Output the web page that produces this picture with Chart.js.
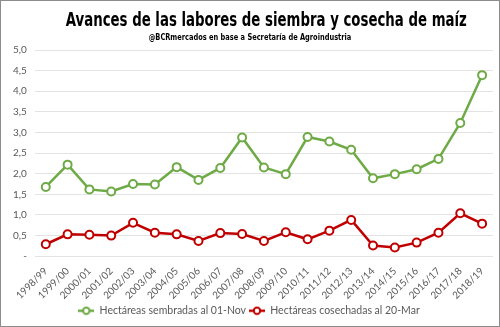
<!DOCTYPE html>
<html>
<head>
<meta charset="utf-8">
<script src="https://cdn.jsdelivr.net/npm/chart.js@4"></script>
<style>
  html, body { margin: 0; padding: 0; background: #fff; }
  #marco { width: 500px; height: 327px; box-sizing: border-box; border: 1px solid #8c8c8c; position: relative; overflow: hidden; }
  #marco canvas { position: absolute; left: 0; top: 0; }
  .encabezado { position: absolute; left: 0; width: 498px; text-align: center; color: #000; font-weight: bold;
    font-family: 'DejaVu Sans Condensed', 'Liberation Sans Narrow', sans-serif; white-space: nowrap; }
  #titulo { top: 6px; font-size: 20px; line-height: 24px; transform: scaleX(0.74); }
  #subtitulo { top: 30px; font-size: 9px; line-height: 12px; transform: scaleX(0.82); }
</style>
</head>
<body>
<div id="marco">
  <canvas id="graficoMaiz"></canvas>
  <div id="titulo" class="encabezado">Avances de las labores de siembra y cosecha de maíz</div>
  <div id="subtitulo" class="encabezado">@BCRmercados en base a Secretaría de Agroindustria</div>
</div>
<script>
// Campañas y hectáreas (millones)
const campanias = ['1998/99', '1999/00', '2000/01', '2001/02', '2002/03', '2003/04', '2004/05', '2005/06', '2006/07', '2007/08',
  '2008/09', '2009/10', '2010/11', '2011/12', '2012/13', '2013/14', '2014/15', '2015/16', '2016/17', '2017/18', '2018/19'];
const sembradas = [1.68, 2.22, 1.62, 1.57, 1.75, 1.74, 2.16, 1.85, 2.14, 2.88,
  2.15, 1.99, 2.89, 2.78, 2.58, 1.89, 1.99, 2.11, 2.36, 3.23, 4.39];
const cosechadas = [0.29, 0.53, 0.52, 0.50, 0.81, 0.57, 0.53, 0.37, 0.56, 0.54,
  0.37, 0.58, 0.41, 0.62, 0.88, 0.26, 0.21, 0.33, 0.57, 1.04, 0.79];

const VERDE = '#6eaa45';
const ROJO = '#c00000';

// icono de leyenda: línea con círculo al centro
function iconoLeyenda(color) {
  const c = document.createElement('canvas');
  c.width = 16; c.height = 10;
  const g = c.getContext('2d');
  g.strokeStyle = color;
  g.lineWidth = 2.5;
  g.beginPath(); g.moveTo(0, 5); g.lineTo(16, 5); g.stroke();
  g.fillStyle = '#fff';
  g.lineWidth = 2;
  g.beginPath(); g.arc(8, 5, 3.2, 0, Math.PI * 2); g.fill(); g.stroke();
  return c;
}

const ctx = document.getElementById('graficoMaiz').getContext('2d');
new Chart(ctx, {
  type: 'line',
  data: {
    labels: campanias,
    datasets: [{
      label: 'Hectáreas sembradas al 01-Nov',
      data: sembradas,
      borderColor: VERDE,
      backgroundColor: '#fff',
      borderWidth: 2.5,
      pointRadius: 4,
      pointBorderWidth: 2,
      pointBackgroundColor: '#fff',
      tension: 0
    }, {
      label: 'Hectáreas cosechadas al 20-Mar',
      data: cosechadas,
      borderColor: ROJO,
      backgroundColor: '#fff',
      borderWidth: 2.5,
      pointRadius: 4,
      pointBorderWidth: 2,
      pointBackgroundColor: '#fff',
      tension: 0
    }]
  },
  options: {
    responsive: true,
    maintainAspectRatio: false,
    animation: false,
    layout: { padding: { left: 4, right: 6, top: 49, bottom: 0 } },
    plugins: {
      legend: {
        position: 'bottom',
        labels: {
          color: '#595959',
          font: { family: 'Lato', size: 10.5 },
          boxWidth: 16,
          pointStyleWidth: 16,
          padding: 3,
          usePointStyle: true,
          generateLabels: chart => chart.data.datasets.map((ds, i) => ({
            text: ds.label,
            fontColor: '#595959',
            pointStyle: iconoLeyenda(ds.borderColor),
            datasetIndex: i,
            hidden: false,
            lineWidth: 0
          }))
        }
      },
      tooltip: { enabled: false }
    },
    scales: {
      x: {
        offset: true,
        grid: { display: false },
        border: { display: false },
        ticks: {
          color: '#595959',
          padding: 1,
          font: { family: 'Lato', size: 10 },
          maxRotation: 45,
          minRotation: 45,
          autoSkip: false
        }
      },
      y: {
        min: 0,
        max: 5,
        border: { display: false },
        grid: { color: '#e3e3e3', lineWidth: 1, drawTicks: false },
        ticks: {
          stepSize: 0.5,
          color: '#595959',
          padding: 8,
          font: { family: 'Lato', size: 10 },
          callback: v => v === 0 ? '-' : v.toFixed(1).replace('.', ',')
        }
      }
    }
  }
});
</script>
</body>
</html>
